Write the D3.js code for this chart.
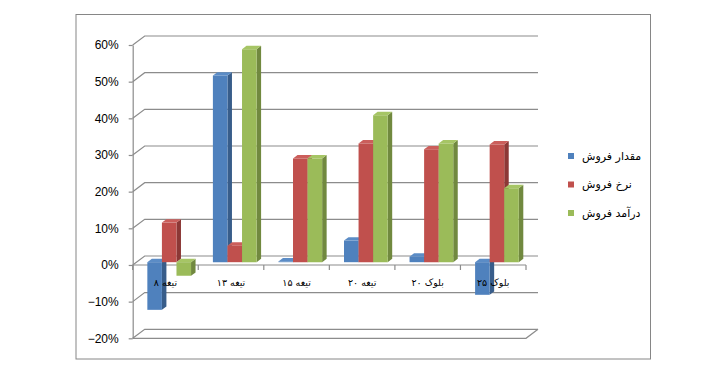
<!DOCTYPE html>
<html>
<head>
<meta charset="utf-8">
<script src="https://cdn.jsdelivr.net/npm/d3@7"></script>
<style>
  body { margin: 0; background: #fff; }
  svg { display: block; }
  .ytick text { font-family: "Liberation Sans", Arial, sans-serif; font-size: 12px; fill: #000; }
  .xlab text { font-family: "DejaVu Sans", sans-serif; font-size: 9.5px; fill: #000; }
  .legend text { font-family: "DejaVu Sans", sans-serif; font-size: 11px; fill: #000; }
</style>
</head>
<body>
<svg width="713" height="375"></svg>
<script>
// data
var categories = ["تیغه ۸", "تیغه ۱۳", "تیغه ۱۵", "تیغه ۲۰", "بلوک ۲۰", "بلوک ۲۵"];
var seriesNames = ["مقدار فروش", "نرخ فروش", "درآمد فروش"];
var quantity = [-0.130, 0.509, 0.002, 0.059, 0.015, -0.089];
var rate     = [0.108, 0.045, 0.283, 0.324, 0.308, 0.321];
var revenue  = [-0.037, 0.581, 0.283, 0.401, 0.324, 0.202];
var yTicks = [-0.2, -0.1, 0, 0.1, 0.2, 0.3, 0.4, 0.5, 0.6];

var values = [quantity, rate, revenue];

var svg = d3.select("svg");

// 3d look: depth vector of the walls
var depth = {dx: 12, dy: -9};
var barFront = 0.31, barDepth = 0.375;

var faces = [
  {front: "#4F81BD", side: "#385D8A", top: "#5B8CC6"},
  {front: "#C0504D", side: "#8C3836", top: "#CB5E5B"},
  {front: "#9BBB59", side: "#71893F", top: "#A6C565"}
];

var y = d3.scaleLinear().domain([-0.2, 0.6]).range([338.3, 45]);
var x0 = d3.scaleBand().domain(categories).range([132.7, 526]).paddingInner(0).paddingOuter(0);
var groupW = x0.bandwidth() * 3 / 4.5;
var x1 = d3.scaleBand().domain(d3.range(seriesNames.length)).range([0, groupW]);

function pt(x, v, z) {
  return [x + depth.dx * z, y(v) + depth.dy * z];
}
function poly(points) {
  return points.map(function(p) { return p.join(","); }).join(" ");
}

// outer border
svg.append("rect")
  .attr("x", 76).attr("y", 14.5)
  .attr("width", 574.5).attr("height", 344.5)
  .attr("fill", "none").attr("stroke", "#868686");

var xL = x0.range()[0], xR = x0.range()[1];
var grid = svg.append("g").attr("stroke", "#8c8c8c").attr("stroke-width", 1.2).attr("fill", "none");

// side wall + back wall gridlines
yTicks.forEach(function(t) {
  var a = pt(xL, t, 0), b = pt(xL, t, 1), c = pt(xR, t, 1);
  grid.append("polyline").attr("points", poly([a, b, c]));
});

// floor at the bottom
var fmin = yTicks[0];
grid.append("polyline").attr("points", poly([pt(xL, fmin, 0), pt(xR, fmin, 0), pt(xR, fmin, 1)]));

// category axis at zero on the front plane
var zeroY = y(0);
grid.append("line").attr("x1", xL).attr("x2", xR).attr("y1", zeroY).attr("y2", zeroY);
d3.range(categories.length + 1).forEach(function(i) {
  var xx = xL + i * x0.step();
  grid.append("line").attr("x1", xx).attr("x2", xx).attr("y1", zeroY).attr("y2", zeroY + 5);
});

// value axis
var yAxis = d3.axisLeft(y)
  .tickValues(yTicks)
  .tickFormat(d3.format(".0%"))
  .tickSize(4)
  .tickSizeOuter(0)
  .tickPadding(10);

var ya = svg.append("g").attr("class", "ytick")
  .attr("transform", "translate(" + xL + ",0)")
  .call(yAxis);
ya.select(".domain").attr("stroke", "#8c8c8c").attr("stroke-width", 1.2);
ya.selectAll(".tick line").attr("stroke", "#8c8c8c").attr("stroke-width", 1.2);

// bars
var bars = svg.append("g");
categories.forEach(function(cat, ci) {
  values.forEach(function(vals, si) {
    var v = vals[ci];
    var xa = x0(cat) + (x0.bandwidth() - groupW) / 2 + x1(si);
    var xb = xa + x1.bandwidth();
    var lo = Math.min(0, v), hi = Math.max(0, v);
    var z0 = barFront, z1 = barFront + barDepth;
    var g = bars.append("g");
    // side
    g.append("polygon")
      .attr("points", poly([pt(xb, lo, z0), pt(xb, hi, z0), pt(xb, hi, z1), pt(xb, lo, z1)]))
      .attr("fill", faces[si].side);
    // top
    g.append("polygon")
      .attr("points", poly([pt(xa, hi, z0), pt(xb, hi, z0), pt(xb, hi, z1), pt(xa, hi, z1)]))
      .attr("fill", faces[si].top);
    // front
    g.append("polygon")
      .attr("points", poly([pt(xa, lo, z0), pt(xb, lo, z0), pt(xb, hi, z0), pt(xa, hi, z0)]))
      .attr("fill", faces[si].front);
  });
});

// category labels
var xa = svg.append("g").attr("class", "xlab")
  .attr("transform", "translate(0," + zeroY + ")")
  .call(d3.axisBottom(x0).tickSize(0).tickPadding(14));
xa.select(".domain").remove();

// legend
var legend = svg.append("g").attr("class", "legend");
seriesNames.forEach(function(name, i) {
  var ly = 156 + i * 28.5;
  legend.append("rect")
    .attr("x", 568).attr("y", ly - 3)
    .attr("width", 6).attr("height", 6)
    .attr("fill", faces[i].front);
  legend.append("text")
    .attr("x", 582).attr("y", ly)
    .attr("dy", "0.35em")
    .text(name);
});
</script>
</body>
</html>
